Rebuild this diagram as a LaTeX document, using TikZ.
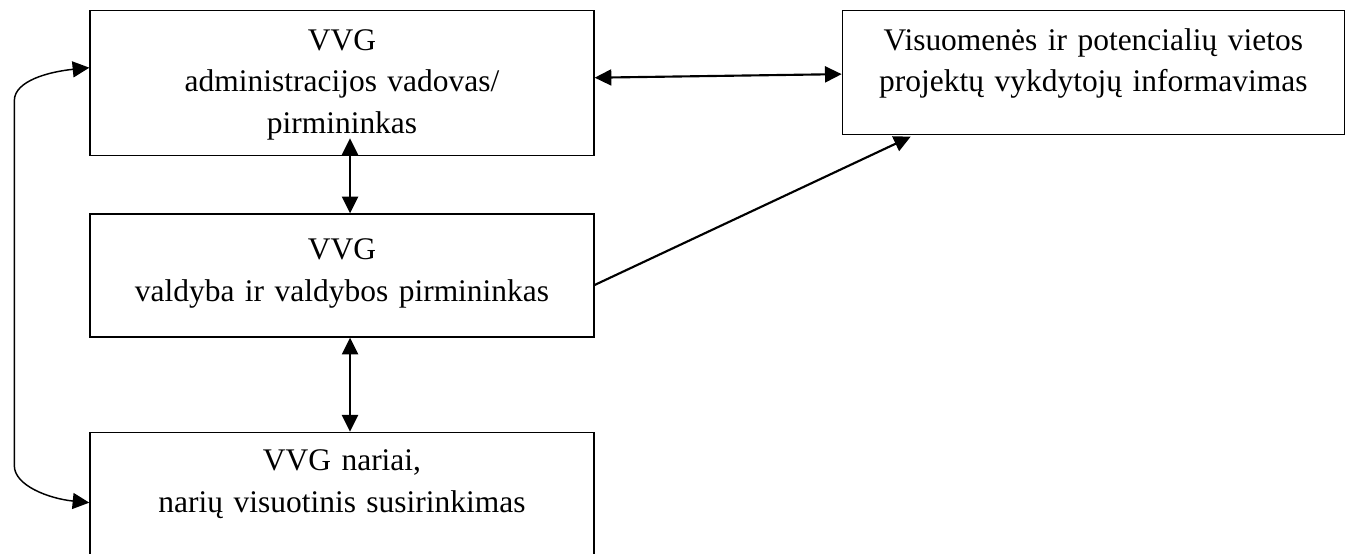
\documentclass[tikz,border=0pt]{standalone}
\usepackage{fontspec}
\setmainfont{Liberation Serif}
\usetikzlibrary{arrows.meta,positioning}

\begin{document}
\begin{tikzpicture}[>={Triangle[length=12.5pt,width=12pt]},
    box/.style={draw, line width=1pt, inner sep=0pt, text width=378pt, align=center,
      font=\fontsize{23.6pt}{31pt}\selectfont}]
   \useasboundingbox (0,0) rectangle (1008.75pt,414.75pt);
   \node[box, anchor=north, text height=30pt, text depth=78.75pt] (vadovas) at (256.5pt,407.25pt)
      {VVG\\ administracijos vadovas/\\ pirmininkas};
   \node[box, text height=34.5pt, text depth=57.75pt] (valdyba) [below=42.75pt of vadovas]
      {VVG\\ valdyba ir valdybos pirmininkas};
   \node[box, text height=29pt, text depth=105pt] (nariai) [below=70.5pt of valdyba]
      {VVG nariai,\\ narių visuotinis susirinkimas};
   \node[box, anchor=north west, text width=376.5pt, text height=30pt, text depth=63pt]
      (informavimas) at ([xshift=185.25pt]vadovas.north east)
      {Visuomenės ir potencialių vietos\\ projektų vykdytojų informavimas};
    \path[<->, line width=1.6pt]
    ([yshift=4.1pt]vadovas.east)
        edge ([yshift=-1.1pt]informavimas.west)
    ([xshift=6pt]valdyba.north)
        edge ([xshift=6pt,yshift=13.5pt]vadovas.south)
    ([xshift=6pt]valdyba.south)
        edge ([xshift=6pt]nariai.north);
    \draw[->, line width=1.6pt] ([yshift=-7.1pt]valdyba.east) -- ([xshift=51.75pt,yshift=-1pt]informavimas.south west);
    \draw[<->, line width=1.1pt] ([yshift=11.6pt]vadovas.west)
        .. controls +(-30pt,-3pt) and +(0,15pt) .. ++(-56.25pt,-24.75pt)
        -- ++(0,-273.75pt)
        .. controls +(0,-15pt) and +(-30pt,3pt) .. ([yshift=-53.25pt]nariai.north west);
\end{tikzpicture}
\end{document}
